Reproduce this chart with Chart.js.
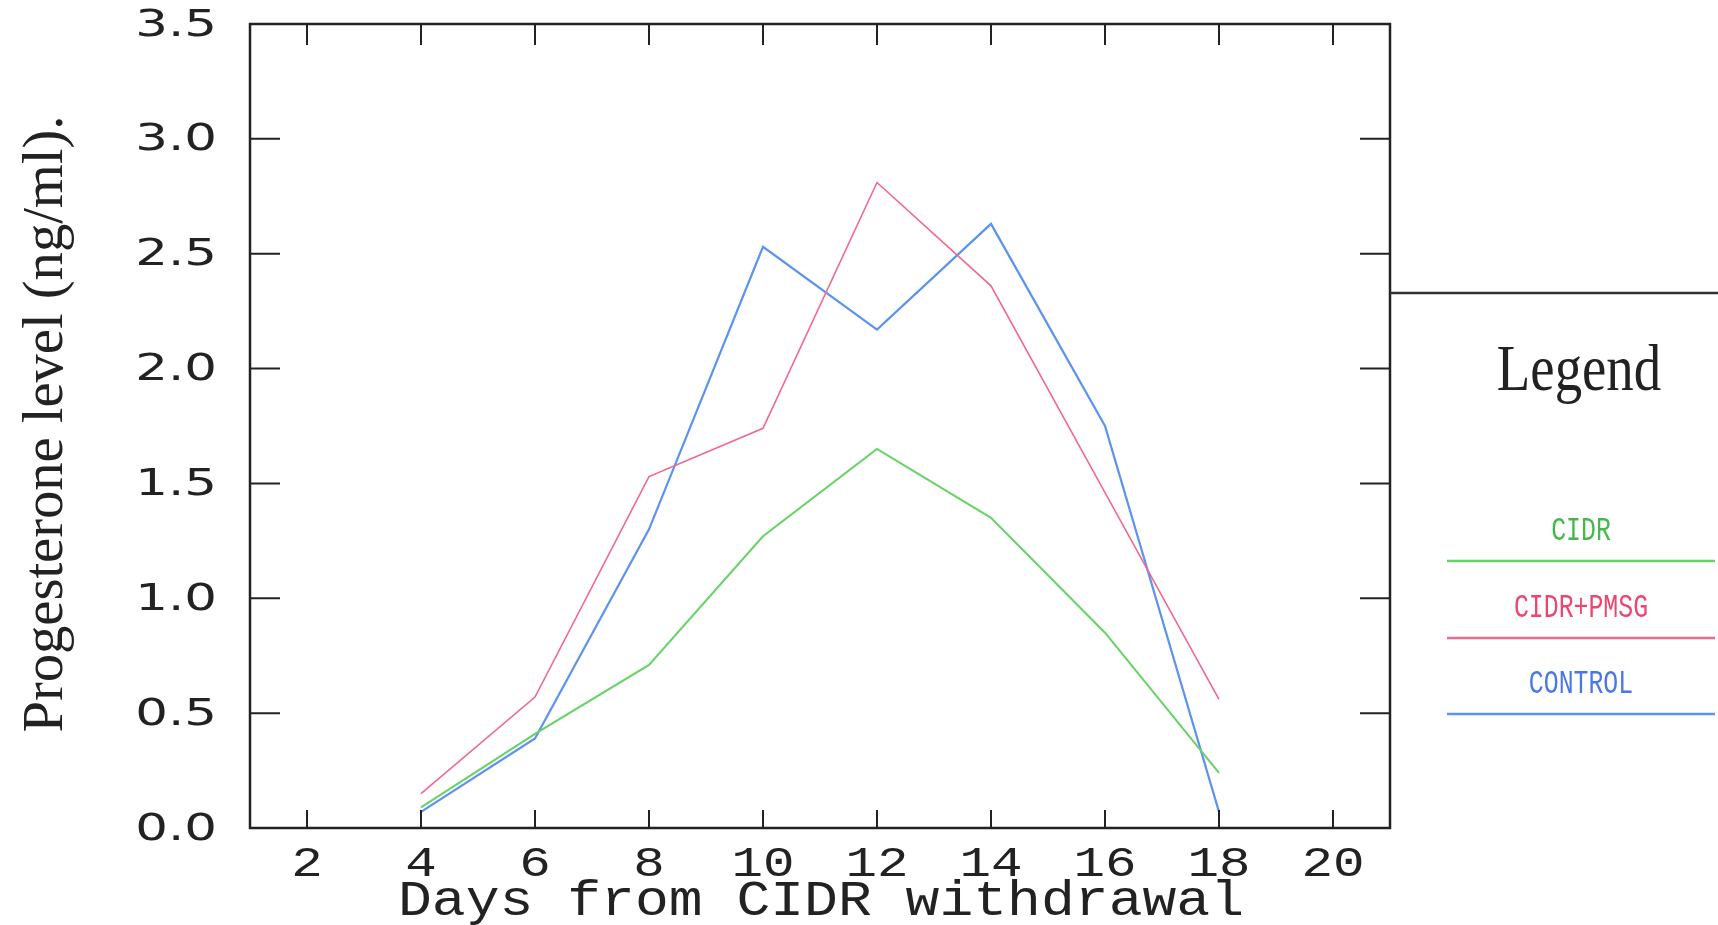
<!DOCTYPE html>
<html lang="en">
<head>
    <meta charset="UTF-8">
    <title>Progesterone level after CIDR withdrawal</title>
    <style>
        html, body {
            margin: 0;
            padding: 0;
            background: #ffffff;
        }
        #wrap {
            width: 1718px;
            height: 925px;
        }
    </style>
</head>
<body>
    <div id="wrap">
        <canvas id="chart" width="1718" height="925"></canvas>
    </div>

    <script src="https://cdn.jsdelivr.net/npm/chart.js"></script>
    <script>
        // sampling days and mean progesterone (ng/ml) per group
        const days = [4, 6, 8, 10, 12, 14, 16, 18];
        const cidr = [0.09, 0.41, 0.71, 1.27, 1.65, 1.35, 0.85, 0.24];
        const cidrPmsg = [0.15, 0.57, 1.53, 1.74, 2.81, 2.36, 1.46, 0.56];
        const control = [0.07, 0.39, 1.30, 2.53, 2.17, 2.63, 1.75, 0.07];

        const xTicks = [2, 4, 6, 8, 10, 12, 14, 16, 18, 20];
        const yTicks = ['0.0', '0.5', '1.0', '1.5', '2.0', '2.5', '3.0', '3.5'];

        const seriesNames = ['CIDR', 'CIDR+PMSG', 'CONTROL'];

        const ink = '#222222';

        function pts(values) {
            return days.map((d, i) => ({ x: d, y: values[i] }));
        }

        // draws text squeezed/stretched horizontally
        function stretchText(ctx, text, x, y, sx, align) {
            ctx.save();
            ctx.translate(x, y);
            ctx.scale(sx, 1);
            ctx.textAlign = align;
            ctx.fillText(text, 0, 0);
            ctx.restore();
        }

        const frame = {
            id: 'frame',
            afterDraw(chart) {
                const ctx = chart.ctx;
                const area = chart.chartArea;
                const xs = chart.scales.x;
                const ys = chart.scales.y;

                ctx.save();
                ctx.strokeStyle = ink;
                ctx.fillStyle = ink;
                ctx.lineCap = 'butt';

                // box around the plot
                ctx.lineWidth = 2.5;
                ctx.strokeRect(area.left, area.top, area.right - area.left, area.bottom - area.top);

                // inward ticks
                ctx.lineWidth = 2;
                ctx.beginPath();
                xTicks.forEach(v => {
                    const px = xs.getPixelForValue(v);
                    ctx.moveTo(px, area.bottom);
                    ctx.lineTo(px, area.bottom - 18);
                    ctx.moveTo(px, area.top);
                    ctx.lineTo(px, area.top + 21);
                });
                yTicks.forEach(t => {
                    const py = ys.getPixelForValue(parseFloat(t));
                    ctx.moveTo(area.left, py);
                    ctx.lineTo(area.left + 30, py);
                    ctx.moveTo(area.right, py);
                    ctx.lineTo(area.right - 30, py);
                });
                ctx.stroke();

                // tick labels
                ctx.textBaseline = 'middle';
                ctx.font = '37px "DejaVu Sans"';
                yTicks.forEach(t => {
                    const py = ys.getPixelForValue(parseFloat(t));
                    stretchText(ctx, t, 217, py + 2, 1.39, 'right');
                });
                ctx.font = '42px "Liberation Mono"';
                xTicks.forEach(v => {
                    const px = xs.getPixelForValue(v);
                    stretchText(ctx, String(v), px, 865, 1.25, 'center');
                });

                // axis titles
                ctx.textBaseline = 'alphabetic';
                ctx.font = '50px "Liberation Mono"';
                const xTitle = 'Days from CIDR withdrawal';
                const xw = ctx.measureText(xTitle).width;
                stretchText(ctx, xTitle, (area.left + area.right) / 2 + 1, 915, 846 / xw, 'center');

                ctx.save();
                ctx.translate(62, 424);
                ctx.rotate(-Math.PI / 2);
                ctx.font = '56px "Liberation Serif"';
                const yTitle = 'Progesterone level (ng/ml).';
                const yw = ctx.measureText(yTitle).width;
                stretchText(ctx, yTitle, 0, 0, 617 / yw, 'center');
                ctx.restore();

                // legend panel
                ctx.lineWidth = 2.5;
                ctx.strokeStyle = '#333333';
                ctx.beginPath();
                ctx.moveTo(area.right, 293);
                ctx.lineTo(chart.width, 293);
                ctx.stroke();

                ctx.fillStyle = '#222222';
                ctx.font = '66px "Liberation Serif"';
                stretchText(ctx, 'Legend', 1579, 390, 0.83, 'center');

                const textColors = ['#45b84a', '#ee4470', '#4a78e2'];
                const baselines = [540, 617, 693];
                const lineYs = [561, 638, 714];
                ctx.font = '34px "Liberation Mono"';
                chart.data.datasets.forEach((ds, i) => {
                    ctx.fillStyle = textColors[i];
                    stretchText(ctx, ds.label, 1581, baselines[i], 0.73, 'center');
                    ctx.strokeStyle = ds.borderColor;
                    ctx.lineWidth = 2.5;
                    ctx.beginPath();
                    ctx.moveTo(1447, lineYs[i]);
                    ctx.lineTo(1715, lineYs[i]);
                    ctx.stroke();
                });

                ctx.restore();
            }
        };

        new Chart(document.getElementById('chart'), {
            type: 'line',
            data: {
                datasets: [
                    {
                        label: seriesNames[0],
                        data: pts(cidr),
                        borderColor: '#66d366',
                        borderWidth: 2
                    },
                    {
                        label: seriesNames[1],
                        data: pts(cidrPmsg),
                        borderColor: '#f0698f',
                        borderWidth: 1.6
                    },
                    {
                        label: seriesNames[2],
                        data: pts(control),
                        borderColor: '#5b93ee',
                        borderWidth: 2.2
                    }
                ]
            },
            options: {
                responsive: false,
                animation: false,
                layout: {
                    padding: { left: 250, right: 328, top: 24, bottom: 97 }
                },
                elements: {
                    point: { radius: 0 },
                    line: { tension: 0 }
                },
                plugins: {
                    legend: { display: false },
                    tooltip: { enabled: false }
                },
                scales: {
                    x: { type: 'linear', min: 1, max: 21, display: false },
                    y: { type: 'linear', min: 0, max: 3.5, display: false }
                }
            },
            plugins: [frame]
        });
    </script>
</body>
</html>
